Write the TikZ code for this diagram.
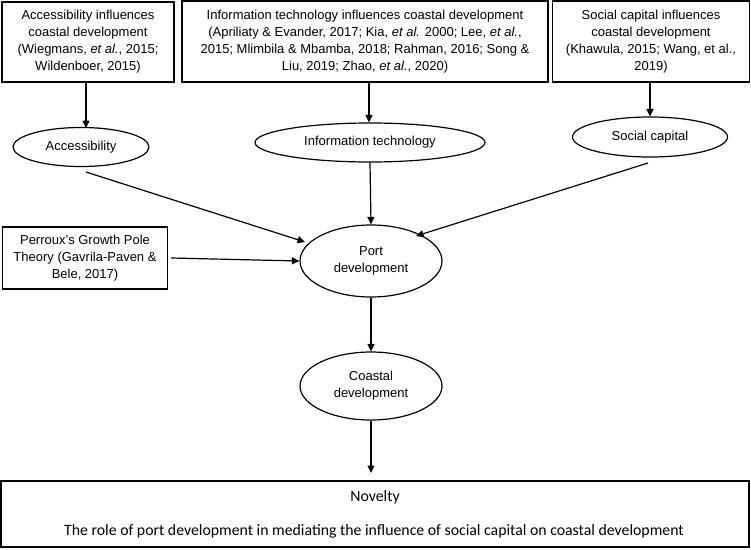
\documentclass[tikz,border=0pt]{standalone}
\usepackage{fontspec}
\setmainfont{Liberation Sans}
\newfontfamily\calib{Carlito}
\usetikzlibrary{arrows.meta,shapes.geometric}
\tikzset{
  box/.style={draw, line width=1.2pt, rectangle, align=center, inner sep=0pt, font=\fontsize{13}{17}\selectfont},
  oval/.style={draw, line width=1.2pt, ellipse, inner sep=0pt, align=center, font=\fontsize{13}{17}\selectfont},
  arr/.style={line width=1.2pt, -{Triangle[length=7.5pt,width=7pt]}}
}
\begin{document}
\begin{tikzpicture}[x=1pt,y=-1pt]
\useasboundingbox (0,0) rectangle (751,549);
\node[box, minimum width=172pt, minimum height=80pt] (b1) at (88,42) {Accessibility influences\\coastal development\\(Wiegmans, \textit{et al.}, 2015;\\Wildenboer, 2015)};
\node[box, minimum width=366pt, minimum height=81pt] (b2) at (365,41.5) {Information technology influences coastal development\\(Apriliaty \& Evander, 2017; Kia, \textit{et al.} 2000; Lee, \textit{et al.},\\2015; Mlimbila \& Mbamba, 2018; Rahman, 2016; Song \&\\Liu, 2019; Zhao, \textit{et al.}, 2020)};
\node[box, minimum width=197pt, minimum height=81pt] (b3) at (651,41.5) {Social capital influences\\coastal development\\(Khawula, 2015; Wang, et al.,\\2019)};
\node[box, minimum width=165pt, minimum height=62pt] (b4) at (85,258) {Perroux's Growth Pole\\Theory (Gavrila-Paven \&\\Bele, 2017)};
\node[oval, minimum width=136pt, minimum height=39pt] (acc) at (81,147) {Accessibility};
\node[oval, minimum width=230pt, minimum height=39pt] (it) at (370,142.5) {Information technology};
\node[oval, minimum width=155pt, minimum height=40pt] (sc) at (650,137) {Social capital};
\node[oval, minimum width=142pt, minimum height=72pt] (port) at (371,261) {Port\\development};
\node[oval, minimum width=142pt, minimum height=68pt] (coast) at (371,386) {Coastal\\development};
\node[draw, line width=1.2pt, minimum width=748pt, minimum height=66pt, inner sep=0pt] (nov) at (375,514) {};
\node[font=\calib\fontsize{15.8}{18}\selectfont] (novt) at (375,497) {Novelty};
\node[font=\calib\fontsize{15.8}{18}\selectfont] (novs) at (374,531) {The role of port development in mediating the influence of social capital on coastal development};
\coordinate (novin) at (371,473);
\draw[arr] (b1.south -| 86,0) -- (86,128);
\draw[arr] (b2.south -| 369,0) -- (it.north -| 369,0);
\draw[arr] (b3.south -| 650,0) -- (sc.north);
\draw[arr] (86,172) -- (305,242);
\draw[arr] (it.south) -- (port.north);
\draw[arr] (648,163) -- (416,236);
\draw[arr] (b4.east) ++(3,0) -- (port.west);
\draw[arr] (port.south) -- (coast.north);
\draw[arr] (coast.south) -- (novin);
\end{tikzpicture}
\end{document}
